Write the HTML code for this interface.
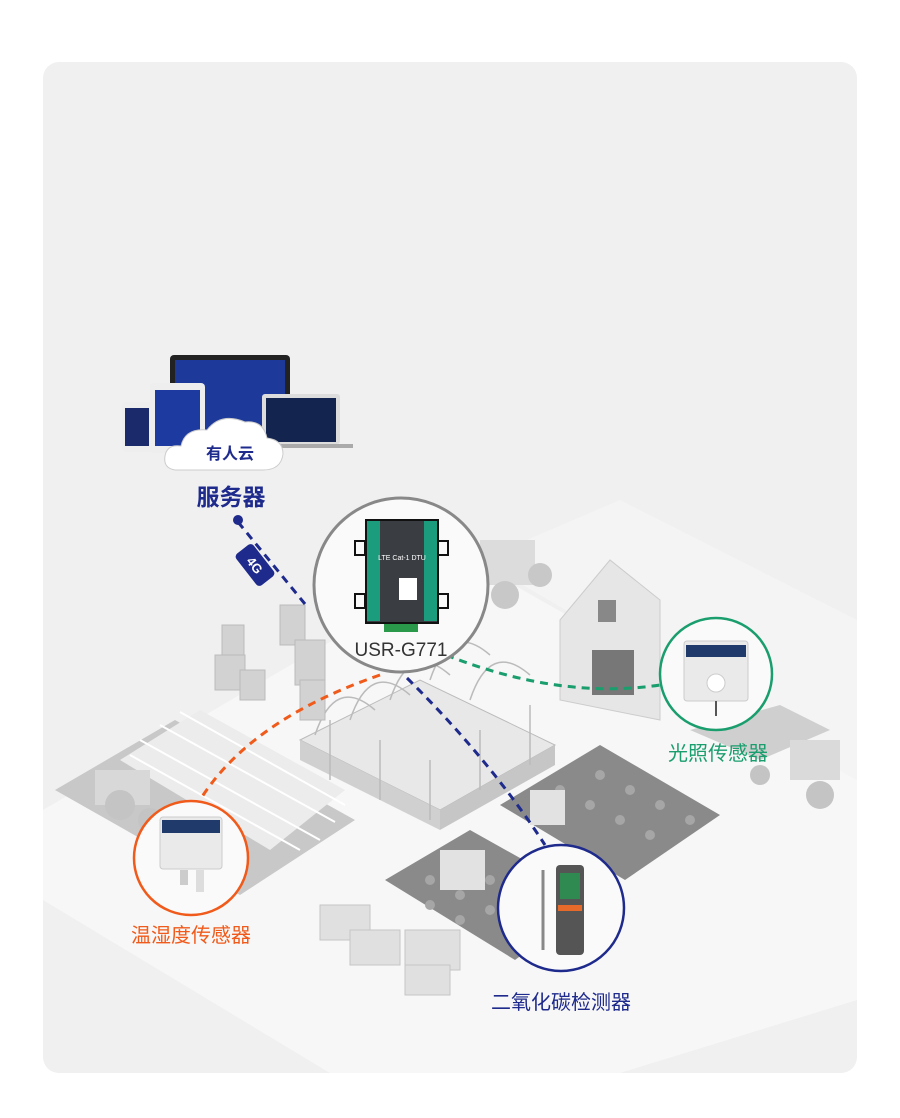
<!DOCTYPE html>
<html><head><meta charset="utf-8"><style>
html,body{margin:0;padding:0;background:#fff;}
body{width:900px;height:1118px;position:relative;overflow:hidden;font-family:"Liberation Sans","Noto Sans CJK SC",sans-serif;}
</style></head><body>
<svg width="900" height="1118" viewBox="0 0 900 1118" xmlns="http://www.w3.org/2000/svg" style="position:absolute;left:0;top:0">
<rect x="43" y="62" width="814" height="1011" rx="16" fill="#f0f0f0"/>
<polygon points="43,810 470,560 857,780 857,1000 620,1073 330,1073 43,900" fill="#f7f7f7"/>
<polygon points="480,560 620,500 857,620 857,780" fill="#f4f4f4"/>
<!-- left field -->
<polygon points="55,790 175,720 355,820 240,895" fill="#c8c8c8"/>
<polygon points="120,760 200,710 345,790 270,850" fill="#ececec"/>
<g stroke="#fff" stroke-width="2">
<line x1="140" y1="740" x2="320" y2="840"/><line x1="160" y1="725" x2="335" y2="822"/><line x1="180" y1="712" x2="345" y2="805"/><line x1="130" y1="755" x2="300" y2="850"/>
</g>
<rect x="95" y="770" width="55" height="35" fill="#d8d8d8"/><circle cx="120" cy="805" r="15" fill="#c4c4c4"/><circle cx="150" cy="820" r="12" fill="#c4c4c4"/>
<!-- greenhouses -->
<polygon points="300,740 420,680 555,745 440,810" fill="#e8e8e8" stroke="#bbb"/>
<polygon points="300,740 440,810 440,830 300,760" fill="#d0d0d0"/>
<polygon points="440,810 555,745 555,765 440,830" fill="#c6c6c6"/>
<g fill="none" stroke="#bbb" stroke-width="1.5">
<path d="M315 735 q20 -60 60 -25"/><path d="M350 720 q20 -60 60 -25"/><path d="M390 700 q20 -60 60 -25"/><path d="M430 680 q20 -60 60 -25"/><path d="M470 700 q20 -60 60 -25"/>
<path d="M330 780 l0 -60 M380 800 l0 -60 M430 820 l0 -60 M480 790 l0 -60 M530 765 l0 -60"/>
</g>
<g fill="#d2d2d2" stroke="#bbb">
<rect x="222" y="625" width="22" height="30"/><rect x="215" y="655" width="30" height="35"/><rect x="240" y="670" width="25" height="30"/>
<rect x="280" y="605" width="25" height="40"/><rect x="295" y="640" width="30" height="45"/><rect x="300" y="680" width="25" height="40"/>
</g>
<polygon points="560,620 610,560 660,600 660,720 560,700" fill="#e6e6e6" stroke="#ccc"/>
<rect x="592" y="650" width="42" height="45" fill="#777"/><rect x="598" y="600" width="18" height="22" fill="#888"/>
<rect x="480" y="540" width="55" height="45" fill="#dcdcdc"/><circle cx="505" cy="595" r="14" fill="#c8c8c8"/><circle cx="540" cy="575" r="12" fill="#c8c8c8"/>
<polygon points="690,730 780,705 830,730 760,760" fill="#cfcfcf"/>
<rect x="790" y="740" width="50" height="40" fill="#dadada"/><circle cx="820" cy="795" r="14" fill="#c4c4c4"/><circle cx="760" cy="775" r="10" fill="#c4c4c4"/>
<polygon points="500,805 600,745 720,815 625,880" fill="#8a8a8a"/>
<polygon points="385,880 470,830 595,900 515,960" fill="#8a8a8a"/>
<g fill="#a6a6a6">
<circle cx="560" cy="790" r="5"/><circle cx="590" cy="805" r="5"/><circle cx="620" cy="820" r="5"/><circle cx="650" cy="835" r="5"/><circle cx="600" cy="775" r="5"/><circle cx="630" cy="790" r="5"/><circle cx="660" cy="805" r="5"/><circle cx="690" cy="820" r="5"/>
<circle cx="430" cy="880" r="5"/><circle cx="460" cy="895" r="5"/><circle cx="490" cy="910" r="5"/><circle cx="460" cy="865" r="5"/><circle cx="490" cy="880" r="5"/><circle cx="520" cy="895" r="5"/><circle cx="430" cy="905" r="5"/><circle cx="460" cy="920" r="5"/>
</g>
<rect x="440" y="850" width="45" height="40" fill="#e2e2e2"/><rect x="530" y="790" width="35" height="35" fill="#e2e2e2"/>
<g fill="#e0e0e0" stroke="#c6c6c6">
<rect x="320" y="905" width="50" height="35"/><rect x="350" y="930" width="50" height="35"/><rect x="405" y="930" width="55" height="40"/><rect x="405" y="965" width="45" height="30"/>
</g>
<g fill="none" stroke-width="3" stroke-dasharray="8 6">
<path d="M238 522 L305 604" stroke="#1e2a8c"/>
<path d="M380 675 Q250 720 200 800" stroke="#f05a1a"/>
<path d="M446 655 Q560 700 660 685" stroke="#1a9e6e"/>
<path d="M407 678 Q490 760 545 845" stroke="#1e2a8c"/>
</g>
<circle cx="238" cy="520" r="5" fill="#1e2a8c"/>
<g transform="translate(255,565) rotate(52)"><rect x="-20" y="-11" width="40" height="22" rx="4" fill="#1e2a8c"/><text x="0" y="5" text-anchor="middle" fill="#fff" font-size="13" font-weight="bold" font-family="Liberation Sans">4G</text></g>
<rect x="170" y="355" width="120" height="85" rx="4" fill="#222"/><rect x="175" y="360" width="110" height="75" fill="#1d3a9a"/>
<rect x="150" y="383" width="55" height="70" rx="4" fill="#eee"/><rect x="155" y="390" width="45" height="56" fill="#1d3aa0"/>
<rect x="122" y="402" width="30" height="50" rx="4" fill="#eee"/><rect x="125" y="408" width="24" height="38" fill="#1a2a6a"/>
<rect x="262" y="394" width="78" height="50" rx="3" fill="#ddd"/><rect x="266" y="398" width="70" height="44" fill="#13244f"/>
<rect x="255" y="444" width="98" height="4" fill="#aaa"/>
<path d="M175 470 q-12 -2 -10 -14 q2 -12 16 -10 q4 -18 26 -16 q14 -18 38 -8 q18 -2 22 16 q16 2 16 16 q-2 16 -20 16 z" fill="#fff" stroke="#ccc"/>
<text x="230" y="459" text-anchor="middle" font-size="16" font-weight="bold" fill="#1e2a8c">有人云</text>
<text x="231" y="505" text-anchor="middle" font-size="23" font-weight="bold" fill="#1e2a8c">服务器</text>
<circle cx="401" cy="585" r="87" fill="#fafafa" stroke="#888" stroke-width="3"/>
<rect x="366" y="520" width="72" height="103" fill="#3a3d42" stroke="#111" stroke-width="2"/>
<polygon points="367,521 380,521 380,621 367,621" fill="#1b9c7c"/><polygon points="424,521 437,521 437,621 424,621" fill="#1b9c7c"/>
<rect x="355" y="541" width="10" height="14" fill="none" stroke="#111" stroke-width="2"/><rect x="355" y="594" width="10" height="14" fill="none" stroke="#111" stroke-width="2"/>
<rect x="438" y="541" width="10" height="14" fill="none" stroke="#111" stroke-width="2"/><rect x="438" y="594" width="10" height="14" fill="none" stroke="#111" stroke-width="2"/>
<rect x="384" y="624" width="34" height="8" fill="#2a9a4a"/>
<text x="402" y="560" text-anchor="middle" font-size="7" fill="#fff">LTE Cat-1 DTU</text>
<rect x="399" y="578" width="18" height="22" fill="#fff"/>
<text x="401" y="656" text-anchor="middle" font-size="19" fill="#333">USR-G771</text>
<circle cx="716" cy="674" r="56" fill="#fafafa" stroke="#1a9e6e" stroke-width="2.5"/>
<rect x="684" y="641" width="64" height="60" rx="3" fill="#eaeaea" stroke="#ccc"/><rect x="686" y="645" width="60" height="12" fill="#1f3a6b"/>
<circle cx="716" cy="683" r="9" fill="#fff" stroke="#ccc"/><line x1="716" y1="701" x2="716" y2="716" stroke="#555" stroke-width="2"/>
<text x="718" y="760" text-anchor="middle" font-size="20" fill="#1a9e6e">光照传感器</text>
<circle cx="191" cy="858" r="57" fill="#fafafa" stroke="#f05a1a" stroke-width="2.5"/>
<rect x="160" y="817" width="62" height="52" rx="3" fill="#eaeaea" stroke="#ccc"/><rect x="162" y="820" width="58" height="13" fill="#1f3a6b"/>
<rect x="180" y="870" width="8" height="15" fill="#ccc"/><rect x="196" y="870" width="8" height="22" fill="#ddd"/>
<text x="191" y="942" text-anchor="middle" font-size="20" fill="#f05a1a">温湿度传感器</text>
<circle cx="561" cy="908" r="63" fill="#fafafa" stroke="#1e2a8c" stroke-width="2.5"/>
<rect x="556" y="865" width="28" height="90" rx="4" fill="#555"/><rect x="560" y="873" width="20" height="26" fill="#2e8a50"/><rect x="558" y="905" width="24" height="6" fill="#e66a2a"/>
<line x1="543" y1="870" x2="543" y2="950" stroke="#888" stroke-width="3"/>
<text x="561" y="1009" text-anchor="middle" font-size="20" fill="#1e2a8c">二氧化碳检测器</text>
</svg>
</body></html>
